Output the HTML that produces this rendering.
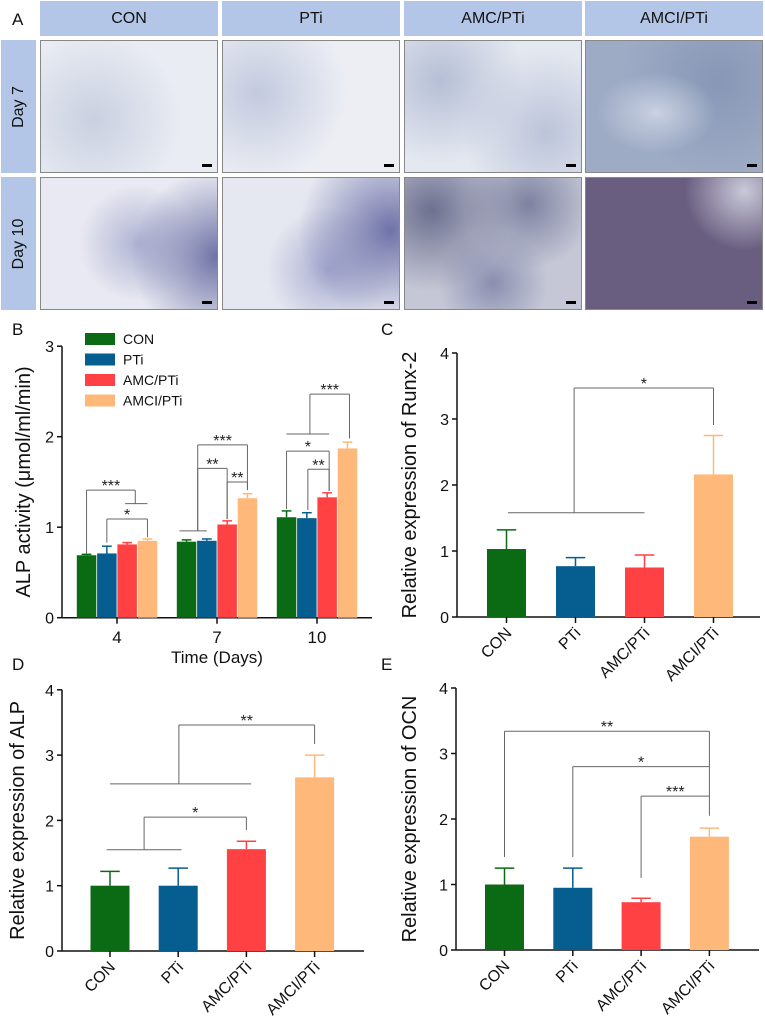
<!DOCTYPE html>
<html><head><meta charset="utf-8">
<style>
body{margin:0;background:#fff;width:765px;height:1018px;position:relative;overflow:hidden;font-family:"Liberation Sans",Arial,sans-serif;}
.hdr{position:absolute;top:1px;height:35px;width:178px;background:#b4c6e7;text-align:center;line-height:35px;font-size:16px;color:#111;}
.side{position:absolute;left:1px;width:35px;height:133px;background:#b4c6e7;}
.side span{position:absolute;left:50%;top:50%;transform:translate(-50%,-50%) rotate(-90deg);font-size:16px;white-space:nowrap;color:#111;}
.img{position:absolute;width:176px;height:131px;border:1px solid #888;overflow:hidden;}
.sb{position:absolute;right:5px;bottom:5px;width:10px;height:3px;background:#000;}
.lab{position:absolute;font-size:17px;color:#111;}
svg{position:absolute;left:0;top:0;}
</style></head><body>
<div class="lab" style="left:12px;top:10px">A</div>
<div class="hdr" style="left:40px">CON</div>
<div class="hdr" style="left:222px">PTi</div>
<div class="hdr" style="left:404px">AMC/PTi</div>
<div class="hdr" style="left:585px">AMCI/PTi</div>
<div class="side" style="top:40px"><span>Day 7</span></div>
<div class="side" style="top:177px"><span>Day 10</span></div>

<div class="img" style="left:40px;top:40px;background:radial-gradient(circle at 30% 60%,#c9d0e0,transparent 60%),#e9ecf3"><div class="sb"></div></div>
<div class="img" style="left:222px;top:40px;background:radial-gradient(circle at 20% 40%,#c3cadf,transparent 55%),#eceef4"><div class="sb"></div></div>
<div class="img" style="left:404px;top:40px;background:radial-gradient(circle at 20% 30%,#b6bfd6,transparent 50%),radial-gradient(circle at 80% 70%,#bcc4da,transparent 50%),#e4e8f0"><div class="sb"></div></div>
<div class="img" style="left:585px;top:40px;background:radial-gradient(ellipse at 40% 55%,#c9d1e2,transparent 40%),radial-gradient(circle at 75% 30%,#8797b6,transparent 60%),#9eabc5"><div class="sb"></div></div>
<div class="img" style="left:40px;top:177px;background:radial-gradient(circle at 100% 60%,#6f73a6,transparent 45%),radial-gradient(circle at 55% 50%,#b0b4d3,transparent 50%),#e8e9f2"><div class="sb"></div></div>
<div class="img" style="left:222px;top:177px;background:radial-gradient(circle at 95% 40%,#6e72a8,transparent 50%),radial-gradient(circle at 60% 70%,#a9add0,transparent 45%),#e6e8f1"><div class="sb"></div></div>
<div class="img" style="left:404px;top:177px;background:radial-gradient(circle at 15% 25%,#6d708f,transparent 45%),radial-gradient(circle at 70% 20%,#7d82a0,transparent 40%),radial-gradient(circle at 50% 80%,#8a8fb0,transparent 40%),#c5c7d6"><div class="sb"></div></div>
<div class="img" style="left:585px;top:177px;background:radial-gradient(circle at 90% 10%,#c9c9d9,transparent 30%),#6a5e80"><div class="sb"></div></div>

<div class="lab" style="left:12px;top:320px">B</div>
<div class="lab" style="left:381px;top:320px">C</div>
<div class="lab" style="left:12px;top:655px">D</div>
<div class="lab" style="left:381px;top:655px">E</div>

<svg id="chart" width="765" height="1018"></svg>
<script>
const groups = ["CON","PTi","AMC/PTi","AMCI/PTi"];
const colors = ["#0b6a14","#055e8f","#ff4143","#fdb87a"];
const daysB = ["4","7","10"];
const meanB = [[0.69,0.71,0.81,0.85],[0.84,0.85,1.03,1.32],[1.11,1.10,1.33,1.87]];
const errB  = [[0.70,0.79,0.83,0.87],[0.86,0.87,1.07,1.37],[1.18,1.16,1.38,1.94]];
const ticksB = [0,1,2,3];
const meanC = [1.03,0.77,0.75,2.16];
const errC  = [1.32,0.90,0.94,2.75];
const meanD = [1.0,1.0,1.56,2.66];
const errD  = [1.22,1.27,1.68,3.0];
const meanE = [1.0,0.95,0.73,1.73];
const errE  = [1.25,1.25,0.79,1.86];
const ticks4 = [0,1,2,3,4];
const NS="http://www.w3.org/2000/svg";
const svg=document.getElementById('chart');
function el(t,a,txt){const e=document.createElementNS(NS,t);for(const k in a)e.setAttribute(k,a[k]);if(txt!=null)e.textContent=txt;svg.appendChild(e);return e;}
function line(x1,y1,x2,y2,c,w){return el('line',{x1,y1,x2,y2,stroke:c||'#111','stroke-width':w||1.5});}

function axes(ax,ticks,name){
  let l=line(ax.x0,ax.y(ticks[ticks.length-1]),ax.x0,ax.y(0));
  
  
  let l2=line(ax.x0,ax.y(0),ax.xEnd,ax.y(0));
  
  
  ticks.forEach(t=>{line(ax.x0-5,ax.y(t),ax.x0,ax.y(t));
    const tx=el('text',{x:ax.x0-8,y:ax.y(t)+6,'text-anchor':'end','font-size':16,fill:'#111'},String(t));
    
    });
  const yt=el('text',{x:0,y:0,'text-anchor':'middle','font-size':ax.tfs||20,fill:'#111',transform:`translate(${ax.tx},${(ax.y(0)+ax.y(ticks[ticks.length-1]))/2}) rotate(-90)`},ax.title);
  
  
}
function bar(cx,w,ax,v,e,c,name){
  const r=el('rect',{x:cx-w/2,y:ax.y(v),width:w,height:ax.y(0)-ax.y(v),fill:c});
  
  
  line(cx,ax.y(v),cx,ax.y(e),c,1.5);
  line(cx-w/4,ax.y(e),cx+w/4,ax.y(e),c,1.5);
}
function bracket(ax,xa,xb,ytop,da,db,lab){
  const g='#666';
  line(xa,ax.y(ytop),xb,ax.y(ytop),g,1);
  if(da!=null)line(xa,ax.y(ytop),xa,ax.y(da),g,1);
  if(db!=null)line(xb,ax.y(ytop),xb,ax.y(db),g,1);
  if(lab){const t=el('text',{x:(xa+xb)/2,y:ax.y(ytop)+1,'text-anchor':'middle','font-size':16,fill:'#222'},lab);
    
    }
}

// Panel B
const axB={x0:62,xEnd:372,y:v=>617.7-v*90.5,tx:30,title:'ALP activity (\u03bcmol/ml/min)',tfs:20};
axes(axB,ticksB,'alp-activity');
const bw=19.5, gc=g=>117+g*100, bx=(g,i)=>gc(g)+(i-1.5)*20.3;
daysB.forEach((d,g)=>{
  line(gc(g),axB.y(0),gc(g),axB.y(0)+6);
  const t=el('text',{x:gc(g),y:643,'text-anchor':'middle','font-size':17,fill:'#111'},d);
  
  
  groups.forEach((n,i)=>bar(bx(g,i),bw,axB,meanB[g][i],errB[g][i],colors[i],'bar-day'+d+'-'+i));
});
{const t=el('text',{x:217,y:663,'text-anchor':'middle','font-size':17,fill:'#111'},'Time (Days)');
}
groups.forEach((n,i)=>{
  const r=el('rect',{x:85,y:333+i*20.5,width:30,height:12,fill:colors[i]});
  
  
  const t=el('text',{x:123,y:344+i*20.5,'font-size':14,fill:'#111'},n);
  
  
});
bracket(axB,bx(0,0),bx(0,2.4),1.41,0.71,1.26,'***');
line(bx(0,1.9),axB.y(1.26),bx(0,3),axB.y(1.26),'#666',1);
bracket(axB,bx(0,1),bx(0,3),1.09,0.83,0.89,'*');
line(bx(1,-0.35),axB.y(0.96),bx(1,1),axB.y(0.96),'#666',1);
bracket(axB,bx(1,0.55),bx(1,3),1.91,0.96,1.41,'***');
bracket(axB,bx(1,0.55),bx(1,2),1.65,0.96,1.09,'**');
bracket(axB,bx(1,2),bx(1,3),1.50,1.09,1.41,'**');
bracket(axB,bx(2,1.15),bx(2,3.1),2.47,2.03,1.98,'***');
line(bx(2,0),axB.y(2.03),bx(2,2.1),axB.y(2.03),'#666',1);
bracket(axB,bx(2,0),bx(2,2.1),1.84,1.2,1.40,'*');
bracket(axB,bx(2,1.05),bx(2,2.1),1.64,1.19,1.40,'**');

function single(ax,mean,err,c0,step,name){
  axes(ax,ticks4,name);
  groups.forEach((n,i)=>{
    const cx=c0+i*step;
    bar(cx,39,ax,mean[i],err[i],colors[i],name+'-bar-'+i);
    line(cx,ax.y(0),cx,ax.y(0)+6);
    const t=el('text',{x:0,y:0,'text-anchor':'end','font-size':16,fill:'#111',transform:`translate(${cx+6},${ax.y(0)+17}) rotate(-45)`},n);
    
    
  });
  return i=>c0+i*step;
}
const axC={x0:457,xEnd:760,y:v=>617-v*66,tx:416,title:'Relative expression of Runx-2'};
const cxC=single(axC,meanC,errC,506.5,69,'runx2');
line(cxC(0.02),axC.y(1.58),cxC(2),axC.y(1.58),'#666',1);
bracket(axC,cxC(0.98),cxC(3),3.47,1.58,2.91,'*');
const axD={x0:62,xEnd:364,y:v=>951-v*65.3,tx:24,title:'Relative expression of ALP'};
const cxD=single(axD,meanD,errD,110,68.2,'alp');
line(cxD(-0.05),axD.y(1.55),cxD(1.05),axD.y(1.55),'#666',1);
bracket(axD,cxD(0.5),cxD(2),2.05,1.55,1.85,'*');
line(cxD(0),axD.y(2.56),cxD(2.07),axD.y(2.56),'#666',1);
bracket(axD,cxD(1.01),cxD(3),3.46,2.56,3.17,'**');
const axE={x0:456,xEnd:759,y:v=>950-v*65.5,tx:416,title:'Relative expression of OCN'};
const cxE=single(axE,meanE,errE,504.5,68.3,'ocn');
bracket(axE,cxE(0),cxE(3),3.34,1.42,2.05,'**');
bracket(axE,cxE(1),cxE(3),2.80,1.42,null,'*');
bracket(axE,cxE(2),cxE(3),2.35,1.10,null,'***');
</script>
</body></html>
